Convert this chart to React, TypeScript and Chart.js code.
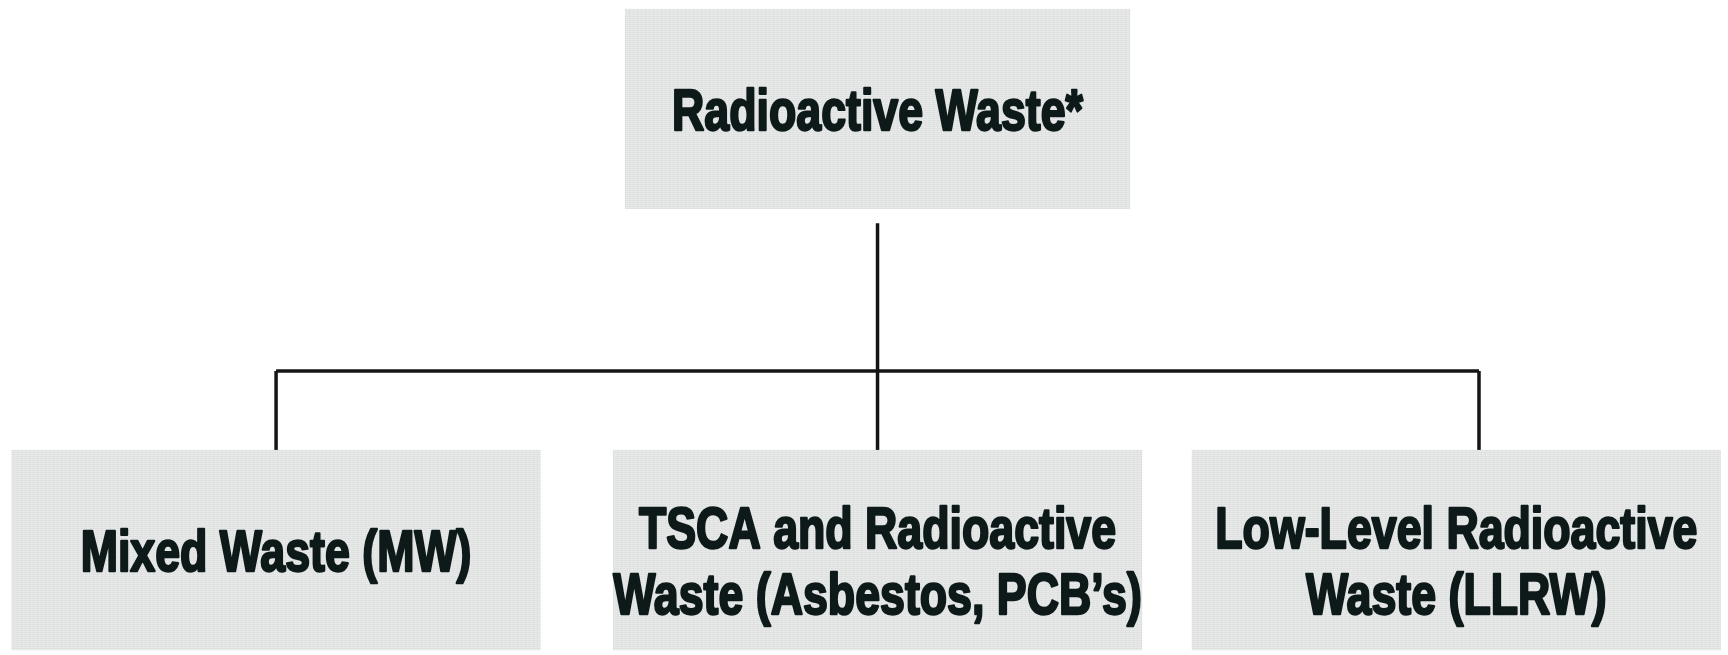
import React, { useEffect, useRef } from "react";
import { Chart, registerables } from "chart.js";

Chart.register(...registerables);

// ---- data ----
const rootLabel: string[] = ["Radioactive Waste*"];
const childLabels: string[][] = [
  ["Mixed Waste (MW)"],
  ["TSCA and Radioactive", "Waste (Asbestos, PCB’s)"],
  ["Low-Level Radioactive", "Waste (LLRW)"],
];
const levels = { root: 1, children: 0 };

// ---- layout / style ----
const X_MIN = -0.459;
const X_MAX = 2.414;
const Y_MIN = -0.238;
const Y_MAX = 1.247;
const BOX_HALF_H = 0.227;
const ROOT_HALF_W = 0.42;
const CHILD_HALF_W = 0.44;
const STEM_GAP = 0.032;
const BUS_Y = 0.406;
const EDGE_MARGIN = 7;
const BOX_FILL_A = "#e0e2e2";
const BOX_FILL_B = "#e9ebeb";
const TEXT_COLOR = "#0e1a1a";
const LINE_COLOR = "#151515";
const FONT_PX = 52;
const LINE_SPACING = 66;
const MULTI_SHIFT = 10;
const X_SQUEEZE = 0.86;
const Y_STRETCH = 1.12;

type Node = { x: number; y: number; halfW: number; lines: string[] };

function buildNodes(): Node[] {
  const kids: Node[] = childLabels.map((lines, i) => ({
    x: i,
    y: levels.children,
    halfW: CHILD_HALF_W,
    lines,
  }));
  const rootX = kids.reduce((s, k) => s + k.x, 0) / kids.length;
  return [{ x: rootX, y: levels.root, halfW: ROOT_HALF_W, lines: rootLabel }, ...kids];
}

function makePattern(ctx: CanvasRenderingContext2D): CanvasPattern | string {
  const c = document.createElement("canvas");
  c.width = 4;
  c.height = 4;
  const p = c.getContext("2d");
  if (!p) return BOX_FILL_A;
  p.fillStyle = BOX_FILL_B;
  p.fillRect(0, 0, 4, 4);
  p.fillStyle = BOX_FILL_A;
  p.fillRect(0, 0, 4, 1);
  p.fillRect(0, 2, 4, 1);
  p.fillRect(1, 0, 1, 4);
  return ctx.createPattern(c, "repeat") || BOX_FILL_A;
}

export default function App() {
  const ref = useRef<HTMLCanvasElement | null>(null);

  useEffect(() => {
    document.body.style.margin = "0";
    const canvas = ref.current;
    if (!canvas) return;
    const nodes = buildNodes();
    const root = nodes[0];
    const kids = nodes.slice(1);

    const lineDs = (data: { x: number; y: number }[]) => ({
      data,
      showLine: true,
      borderColor: LINE_COLOR,
      borderWidth: 3.5,
      pointRadius: 0,
      fill: false,
    });

    const datasets = [
      lineDs([
        { x: root.x, y: root.y - BOX_HALF_H - STEM_GAP },
        { x: root.x, y: BUS_Y },
      ]),
      lineDs([
        { x: kids[0].x, y: BUS_Y },
        { x: kids[kids.length - 1].x, y: BUS_Y },
      ]),
      ...kids.map((k) =>
        lineDs([
          { x: k.x, y: BUS_Y },
          { x: k.x, y: k.y + BOX_HALF_H },
        ])
      ),
    ];

    const boxes = {
      id: "treeBoxes",
      afterDatasetsDraw(chart: any) {
        const { ctx, chartArea } = chart;
        const xs = chart.scales.x;
        const ys = chart.scales.y;
        const fill = makePattern(ctx);
        ctx.save();
        nodes.forEach((n) => {
          let l = xs.getPixelForValue(n.x - n.halfW);
          let r = xs.getPixelForValue(n.x + n.halfW);
          const w = r - l;
          if (r > chartArea.right - EDGE_MARGIN) {
            r = chartArea.right - EDGE_MARGIN;
            l = r - w;
          }
          if (l < chartArea.left + EDGE_MARGIN) {
            l = chartArea.left + EDGE_MARGIN;
            r = l + w;
          }
          const t = ys.getPixelForValue(n.y + BOX_HALF_H);
          const b = ys.getPixelForValue(n.y - BOX_HALF_H);
          ctx.fillStyle = fill;
          ctx.fillRect(l, t, r - l, b - t);
          const cx = (l + r) / 2;
          const nl = n.lines.length;
          const cy = (t + b) / 2 + (nl > 1 ? MULTI_SHIFT : 0);
          const capH = FONT_PX * 0.716 * Y_STRETCH;
          ctx.fillStyle = TEXT_COLOR;
          ctx.strokeStyle = TEXT_COLOR;
          ctx.lineWidth = 2.2;
          ctx.lineJoin = "round";
          ctx.font = `bold ${FONT_PX}px 'Liberation Sans', Arial, sans-serif`;
          ctx.textAlign = "center";
          ctx.textBaseline = "alphabetic";
          n.lines.forEach((line, i) => {
            const base = cy + (i - (nl - 1) / 2) * LINE_SPACING + capH / 2;
            ctx.save();
            ctx.translate(cx, base);
            ctx.scale(X_SQUEEZE, Y_STRETCH);
            ctx.fillText(line, 0, 0);
            ctx.strokeText(line, 0, 0);
            ctx.restore();
          });
        });
        ctx.restore();
      },
    };

    const chart = new Chart(canvas, {
      type: "scatter",
      data: { datasets: datasets as any },
      options: {
        animation: false,
        responsive: false,
        maintainAspectRatio: false,
        layout: { padding: 0 },
        plugins: { legend: { display: false }, tooltip: { enabled: false } },
        scales: {
          x: { type: "linear", min: X_MIN, max: X_MAX, display: false },
          y: { type: "linear", min: Y_MIN, max: Y_MAX, display: false },
        },
      },
      plugins: [boxes],
    });
    return () => chart.destroy();
  }, []);

  return (
    <div style={{ width: 1728, height: 655, background: "#fff" }}>
      <canvas ref={ref} width={1728} height={655} />
    </div>
  );
}
